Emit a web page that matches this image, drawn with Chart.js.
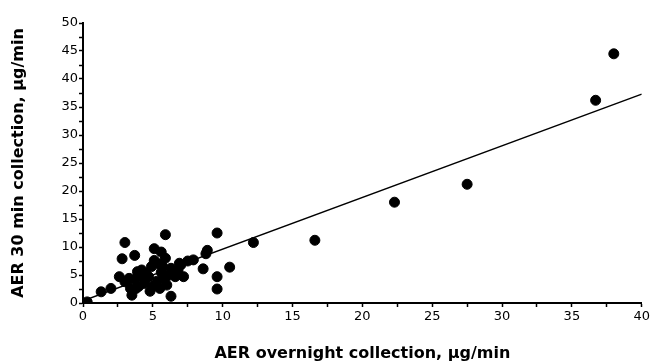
<!DOCTYPE html>
<html>
<head>
<meta charset="utf-8">
<script src="https://cdn.jsdelivr.net/npm/chart.js@4"></script>
<style>
  html, body { margin: 0; padding: 0; background: #fff; }
  #wrap { width: 652px; height: 363px; }
</style>
</head>
<body>
<div id="wrap"><canvas id="chart" width="652" height="363"></canvas></div>
<script>
// overnight AER (x) vs 30 min AER (y), ug/min
const overnightAER = [
  38.0, 36.7, 27.5, 22.3, 16.6, 12.2, 9.6, 10.5, 9.6, 9.6,
  8.9, 8.8, 8.6, 0.3, 1.3, 2.0, 3.0, 2.8, 3.7, 5.9,
  5.1, 5.6, 5.1, 6.3, 7.5, 6.9, 2.6, 3.0, 3.4, 3.5,
  3.8, 4.2, 4.0, 4.7, 4.4, 4.9, 5.5, 5.3, 5.8, 6.6,
  7.2, 7.0, 6.3, 5.9, 5.6, 6.0, 3.3, 4.5, 6.5, 5.4,
  3.9, 7.9, 4.3, 5.0, 6.8, 4.0, 5.7, 3.7, 6.1, 4.8
];
const thirtyMinAER = [
  44.5, 36.2, 21.2, 18.0, 11.2, 10.8, 12.5, 6.4, 4.7, 2.5,
  9.4, 8.8, 6.1, 0.2, 2.0, 2.6, 10.8, 7.9, 8.5, 12.2,
  9.7, 9.1, 7.6, 1.2, 7.5, 7.1, 4.7, 3.8, 2.6, 1.4,
  2.6, 5.9, 4.9, 4.7, 3.5, 6.5, 2.6, 3.9, 4.3, 4.7,
  4.7, 6.8, 6.2, 8.0, 5.5, 3.2, 4.4, 5.3, 5.6, 7.0,
  5.6, 7.7, 5.0, 3.0, 5.8, 3.0, 6.5, 4.2, 4.9, 2.1
];
// regression line end points
const fitX = [0, 40];
const fitY = [0.4, 37.3];

const xTicks = [0, 5, 10, 15, 20, 25, 30, 35, 40];
const yTicks = [0, 5, 10, 15, 20, 25, 30, 35, 40, 45, 50];

const points = overnightAER.map((x, i) => ({ x: x, y: thirtyMinAER[i] }));
const fitLine = fitX.map((x, i) => ({ x: x, y: fitY[i] }));

const labelFont = { family: '"DejaVu Sans", sans-serif', size: 13 };
const titleFont = { family: '"DejaVu Sans", sans-serif', size: 16, weight: 'bold' };

function majorOnly(list) {
  return function (value) {
    return list.includes(value) ? String(value) : '';
  };
}

new Chart(document.getElementById('chart').getContext('2d'), {
  type: 'scatter',
  data: {
    datasets: [
      {
        label: 'patients',
        data: points,
        backgroundColor: '#000',
        borderColor: '#000',
        pointRadius: 5,
        pointHoverRadius: 5
      },
      {
        type: 'line',
        label: 'fit',
        data: fitLine,
        borderColor: '#000',
        borderWidth: 1.5,
        pointRadius: 0,
        fill: false
      }
    ]
  },
  options: {
    responsive: false,
    animation: false,
    layout: { padding: { top: 23, right: 7, left: 9, bottom: 0 } },
    plugins: { legend: { display: false }, tooltip: { enabled: false } },
    scales: {
      x: {
        type: 'linear',
        min: 0, max: 40,
        border: { color: '#000', width: 2 },
        grid: { drawOnChartArea: false, color: '#000', tickLength: 4, tickWidth: 1.5 },
        ticks: {
          stepSize: 2.5, autoSkip: false, maxRotation: 0,
          color: '#000', font: labelFont, padding: 2,
          callback: majorOnly(xTicks)
        },
        title: {
          display: true, text: 'AER overnight collection, µg/min',
          color: '#000', font: titleFont, padding: { top: 14, bottom: 0 }
        },
        afterFit(scale) { scale.height = 60; }
      },
      y: {
        type: 'linear',
        min: 0, max: 50,
        border: { color: '#000', width: 2 },
        grid: { drawOnChartArea: false, color: '#000', tickLength: 4, tickWidth: 1.5 },
        ticks: {
          stepSize: 2.5, autoSkip: false,
          color: '#000', font: labelFont, padding: 1,
          callback: majorOnly(yTicks)
        },
        title: {
          display: true, text: 'AER 30 min collection, µg/min',
          color: '#000', font: titleFont, padding: { top: 0, bottom: 0 }
        },
        afterFit(scale) { scale.width = 74; }
      }
    }
  }
});
</script>
</body>
</html>
